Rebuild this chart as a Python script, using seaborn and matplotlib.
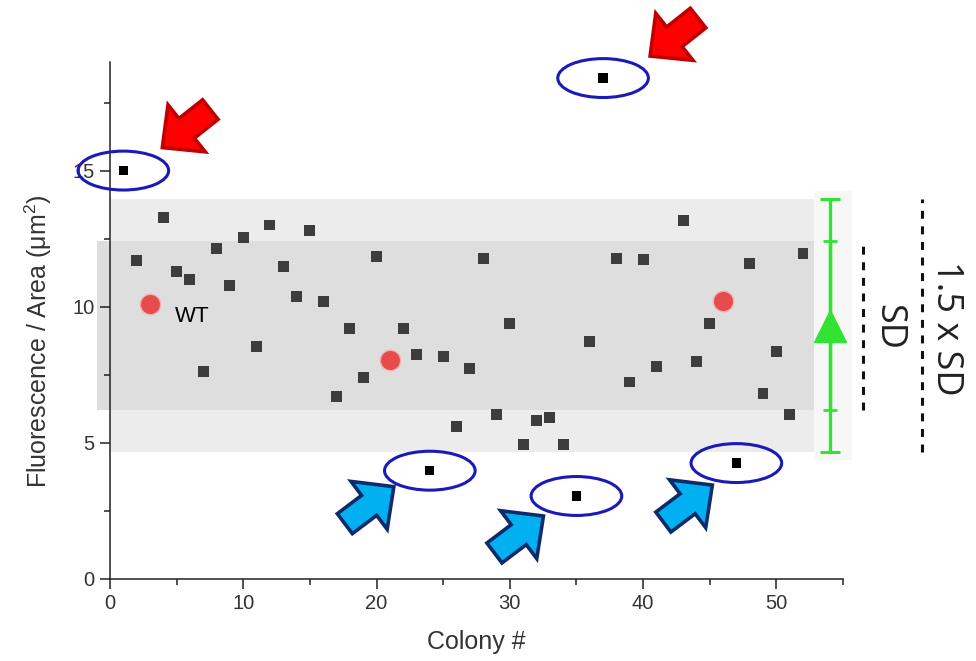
import numpy as np
import pandas as pd
import matplotlib
matplotlib.use('Agg')
import matplotlib.pyplot as plt
import seaborn as sns
from matplotlib.patches import Ellipse, Rectangle, FancyArrow
from matplotlib.transforms import IdentityTransform

# ---------------- data ----------------
colony = [2, 4, 5, 6, 7, 8, 9, 10, 11, 12, 13, 14, 15, 16, 17, 18, 19, 20, 22, 23,
          25, 26, 27, 28, 29, 30, 31, 32, 33, 34, 36, 38, 39, 40, 41, 43, 44, 45, 48, 49,
          50, 51, 52]
values = [11.7, 13.28, 11.28, 10.98, 7.6, 12.12, 10.77, 12.55, 8.55, 13.0,
          11.47, 10.36, 12.8, 10.2, 6.7, 9.18, 7.4, 11.84, 9.18, 8.24,
          8.17, 5.6, 7.71, 11.77, 6.03, 9.39, 4.93, 5.83, 5.94, 4.93,
          8.73, 11.77, 7.23, 11.72, 7.8, 13.15, 7.98, 9.39, 11.6, 6.82,
          8.35, 6.03, 11.95]
wt_colony = [3, 21, 46]
wt_values = [10.1, 8.05, 10.22]
out_colony = [1, 37, 24, 35, 47]
out_values = [15.0, 18.4, 3.97, 3.04, 4.25]
high_outliers = [0, 1]      # indices into out_* pointed at by red arrows
low_outliers = [2, 3, 4]    # indices pointed at by blue arrows
mean_val = 9.3
sd_val = 3.1

x_ticks = [0, 10, 20, 30, 40, 50]
y_ticks = [0, 5, 10, 15]

df = pd.DataFrame({'Colony': colony, 'Value': values})
df_wt = pd.DataFrame({'Colony': wt_colony, 'Value': wt_values})
df_out = pd.DataFrame({'Colony': out_colony, 'Value': out_values})

# ---------------- style ----------------
sns.set_style('ticks')
plt.rcParams['font.family'] = ['Liberation Sans', 'DejaVu Sans']
plt.rcParams['mathtext.fontset'] = 'custom'
plt.rcParams['mathtext.rm'] = 'Liberation Sans'
plt.rcParams['mathtext.it'] = 'Liberation Sans'

fig = plt.figure(figsize=(9.76, 6.61), dpi=100)
ax = fig.add_axes([0.1127, 0.1245, 0.751, 0.7821])
ax.set_xlim(0, 55)
ax.set_ylim(0, 19)

# shaded bands (mean ± SD, mean ± 1.5 SD)
ax.add_patch(Rectangle((0, mean_val - 1.5 * sd_val), 52.8, 3 * sd_val,
                       facecolor='#ececec', edgecolor='none', zorder=0))
ax.add_patch(Rectangle((-1.0, mean_val - sd_val), 53.8, 2 * sd_val,
                       facecolor='#dedede', edgecolor='none', zorder=0.5, clip_on=False))
ax.add_patch(Rectangle((52.8, mean_val - 1.5 * sd_val - 0.3), 2.9, 3 * sd_val + 0.6,
                       facecolor='#f7f7f7', edgecolor='none', zorder=0, clip_on=False))

# points
sns.scatterplot(data=df, x='Colony', y='Value', marker='s', s=62, color='#3d3d3d',
                edgecolor='none', ax=ax, zorder=3)
sns.scatterplot(data=df_wt, x='Colony', y='Value', marker='o', s=215, color='#e64c4c',
                edgecolor='#f3b0b0', linewidth=1.0, ax=ax, zorder=3)
sns.scatterplot(data=df_out, x='Colony', y='Value', marker='s', s=45, color='black',
                edgecolor='none', ax=ax, zorder=4, clip_on=False)

ax.text(4.9, 9.62, 'WT', fontsize=16, va='center', ha='left', color='black')

# ellipses around outliers
for cx, cy in zip(out_colony, out_values):
    ax.add_patch(Ellipse((cx, cy), 6.8, 1.43, facecolor='none', edgecolor='#1a1ab8',
                         linewidth=2.2, zorder=5, clip_on=False))

# green mean ± SD / 1.5 SD bar
gx = 54.0
green = '#33e333'
ax.errorbar([gx], [mean_val], yerr=[1.5 * sd_val], fmt='none', ecolor=green,
            elinewidth=2.4, capsize=7.5, capthick=2.2, zorder=4, clip_on=False)
ax.errorbar([gx], [mean_val], yerr=[sd_val], fmt='none', ecolor=green,
            elinewidth=2.4, capsize=5, capthick=2.0, zorder=4, clip_on=False)
ax.plot([gx], [mean_val], marker='^', ms=23, color=green, zorder=5, clip_on=False)

# dashed SD indicators
ax.plot([56.5, 56.5], [mean_val - sd_val, mean_val + sd_val], color='#111111',
        lw=2.2, ls=(0, (2.6, 2.5)), clip_on=False)
ax.plot([60.9, 60.9], [mean_val - 1.5 * sd_val, mean_val + 1.5 * sd_val], color='#111111',
        lw=2.2, ls=(0, (2.6, 2.5)), clip_on=False)
ax.text(58.4, mean_val - 0.05, 'SD', rotation=270, fontsize=26, family=['Open Sans', 'DejaVu Sans'],
        va='center', ha='center', color='#222222', clip_on=False)
ax.text(62.7, mean_val - 0.1, '1.5 x SD', rotation=270, fontsize=26,
        family=['Open Sans', 'DejaVu Sans'], va='center', ha='center', color='#222222',
        clip_on=False)

# axes styling
ax.set_xticks(x_ticks)
ax.set_xticks(np.arange(5, 56, 10), minor=True)
ax.set_yticks(y_ticks)
ax.set_yticks(np.arange(2.5, 19, 5), minor=True)
ax.tick_params(axis='both', which='major', length=7, width=1.1, labelsize=14.5,
               colors='#222222', labelcolor='#333333', pad=4)
ax.tick_params(axis='both', which='minor', length=4, width=1.1, colors='#222222')
for s in ['top', 'right']:
    ax.spines[s].set_visible(False)
for s in ['left', 'bottom']:
    ax.spines[s].set_linewidth(1.1)
    ax.spines[s].set_color('#222222')
ax.set_xlabel('Colony #', fontsize=18, color='#333333', labelpad=12)
ax.set_ylabel('Fluorescence / Area (μm$^{2}$)', fontsize=18, color='#333333')
ax.yaxis.set_label_coords(-0.076, 0.46)

# block arrows pointing at outliers (offsets in pixels, image y downward)
def block_arrow(pt, tip_off, tail_dir, face, edge):
    px, py = ax.transData.transform(pt)
    tipx, tipy = px + tip_off[0], py - tip_off[1]
    tailx, taily = tipx + tail_dir[0], tipy - tail_dir[1]
    arr = FancyArrow(tailx, taily, tipx - tailx, tipy - taily, width=25,
                     head_width=60, head_length=31, length_includes_head=True,
                     transform=IdentityTransform(), facecolor=face, edgecolor=edge,
                     linewidth=2.6, joinstyle='miter', zorder=10)
    fig.add_artist(arr)

red_offsets = [(39, -23), (47, -22)]
for i, off in zip(high_outliers, red_offsets):
    block_arrow((out_colony[i], out_values[i]), off, (48, -38), '#ff0000', '#c00000')
blue_offsets = [(-36, 16), (-33, 20), (-24, 22)]
for i, off in zip(low_outliers, blue_offsets):
    block_arrow((out_colony[i], out_values[i]), off, (-49, 37), '#00b0f0', '#0d2a6b')

fig.savefig('out.png', dpi=100)
